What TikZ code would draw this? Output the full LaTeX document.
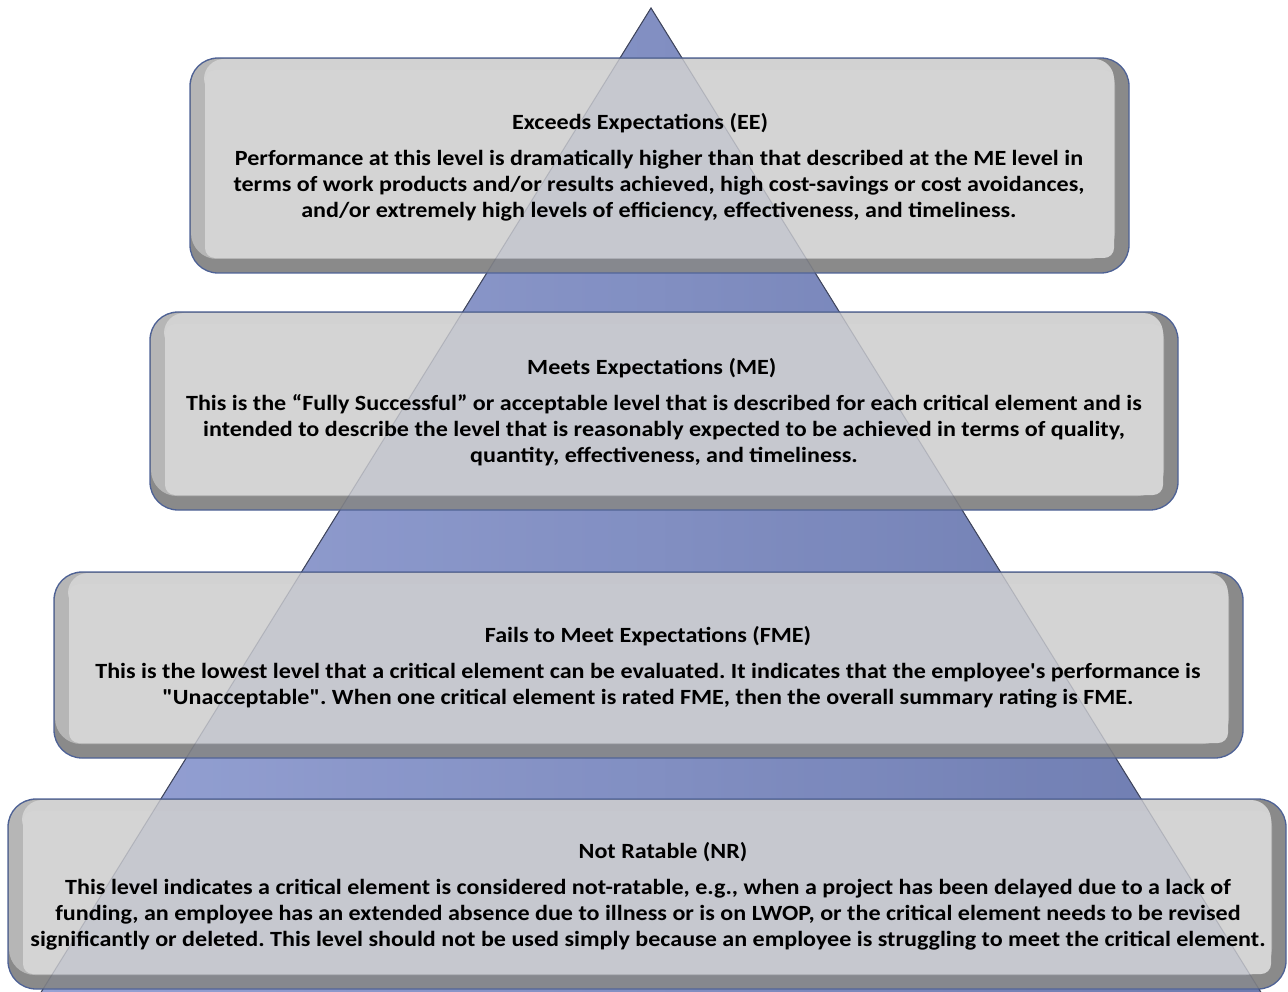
\documentclass[tikz,border=0pt]{standalone}
\usepackage{fontspec}
\setmainfont{Carlito}[Ligatures=TeXOff]
\definecolor{triL}{HTML}{9CA8DA}
\definecolor{triR}{HTML}{6E7CB0}
\definecolor{triEdge}{HTML}{3C4258}
\definecolor{bevDark}{HTML}{8A8A8A}
\definecolor{bevLeft}{HTML}{B6B6B6}
\definecolor{bevTop}{HTML}{D2D2D2}
\definecolor{faceCol}{HTML}{D4D4D4}
\definecolor{rimCol}{HTML}{4E6296}
\tikzset{
  lvltext/.style={align=center, font=\fontsize{21.7}{26}\selectfont\bfseries\frenchspacing, text=black, inner sep=0pt, xscale=1.11, transform shape},
}
\newcommand\lvlbox[4]{%
  \fill[bevDark, rounded corners=28] (#1,#2) rectangle (#3,#4);
  \fill[bevLeft, rounded corners=26] (#1+1,#2+1) rectangle (#3-14,#4-14);
  \fill[bevTop, rounded corners=20] (#1+14,#2+1) rectangle (#3-15,#2+40);
  \fill[faceCol, rounded corners=10] (#1+15,#2+12) rectangle (#3-15,#4-15);
  \draw[rimCol, line width=1.3pt, rounded corners=28] (#1,#2) rectangle (#3,#4);
}
\begin{document}
\begin{tikzpicture}[x=1pt,y=-1pt]
\useasboundingbox (0,0) rectangle (1288,992);
\coordinate (apex) at (651,8);
\coordinate (bl) at (40,994);
\coordinate (br) at (1262,994);
\begin{scope}
\clip (0,0) rectangle (1288,992);
\fill[left color=triL, right color=triR] (apex) -- (bl) -- (br) -- cycle;
\draw[triEdge, line width=1pt, line join=miter] (apex) -- (bl) -- (br) -- cycle;
\end{scope}
% boxes
\lvlbox{190}{58}{1129}{273}
\lvlbox{150}{312}{1178}{510}
\lvlbox{54}{572}{1243}{758}
\lvlbox{8}{799}{1286}{989}
% translucent triangle seen through the boxes
\begin{scope}
\clip (0,0) rectangle (1288,992);
\fill[triR, opacity=0.13] (apex) -- (bl) -- (br) -- cycle;
\draw[triEdge, opacity=0.18, line width=1pt] (apex) -- (bl) -- (br) -- cycle;
\end{scope}
% texts
\node[lvltext] (ee) at (659,167) {\hspace*{-34pt}Exceeds Expectations (EE)\\[10pt]
Performance at this level is dramatically higher than that described at the ME level in\\
terms of work products and/or results achieved, high cost-savings or cost avoidances,\\
and/or extremely high levels of efficiency, effectiveness, and timeliness.};
\node[lvltext] (me) at (664,412) {\hspace*{-22pt}Meets Expectations (ME)\\[10pt]
This is the “Fully Successful” or acceptable level that is described for each critical element and is\\
intended to describe the level that is reasonably expected to be achieved in terms of quality,\\
quantity, effectiveness, and timeliness.};
\node[lvltext] (fme) at (648,667) {Fails to Meet Expectations (FME)\\[10pt]
This is the lowest level that a critical element can be evaluated. It indicates that the employee's performance is\\
"Unacceptable". When one critical element is rated FME, then the overall summary rating is FME.};
\node[lvltext] (nr) at (648,896) {\hspace*{27pt}Not Ratable (NR)\\[10pt]
This level indicates a critical element is considered not-ratable, e.g., when a project has been delayed due to a lack of\\
funding, an employee has an extended absence due to illness or is on LWOP, or the critical element needs to be revised\\
significantly or deleted. This level should not be used simply because an employee is struggling to meet the critical element.};
\end{tikzpicture}
\end{document}
